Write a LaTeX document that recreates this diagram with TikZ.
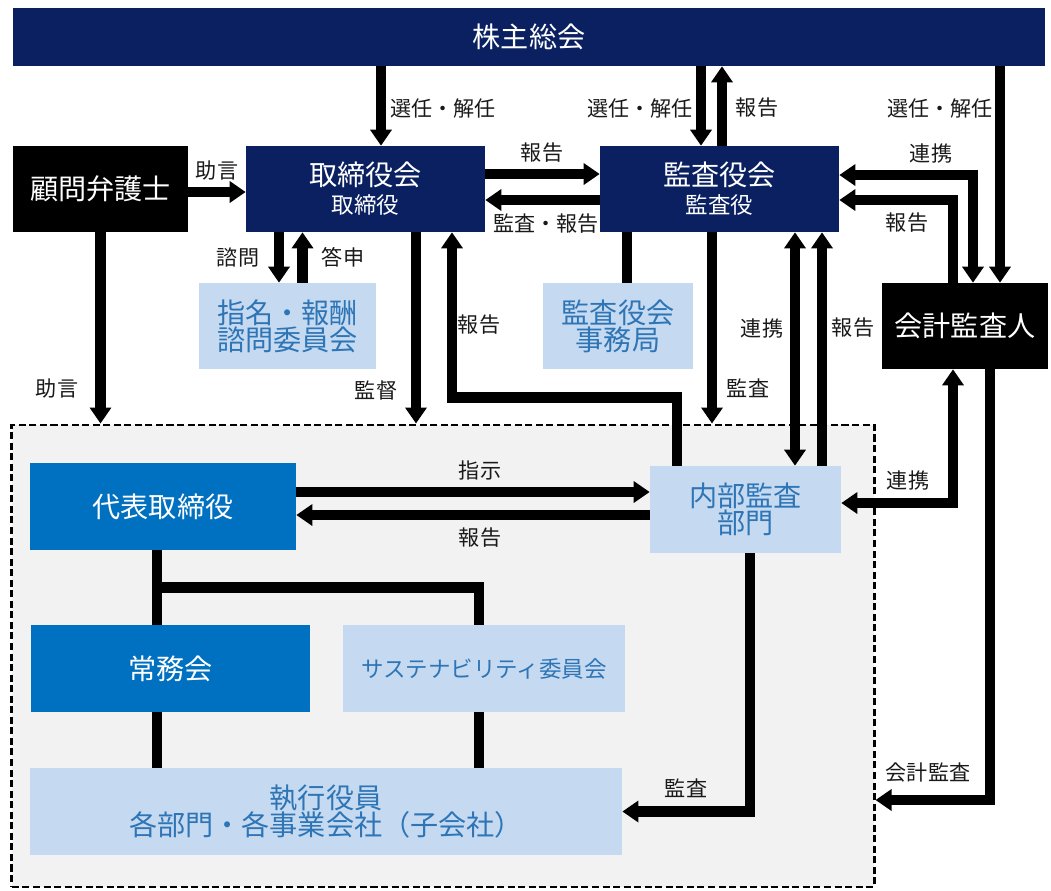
\documentclass[tikz,border=0pt]{standalone}
\usepackage{fontspec}
\setmainfont{Noto Sans CJK JP}
\usetikzlibrary{arrows.meta, calc, positioning}
\definecolor{navy}{RGB}{10,32,96}
\definecolor{midblue}{RGB}{0,112,192}
\definecolor{paleblue}{RGB}{197,217,241}
\definecolor{boxtext}{RGB}{46,117,182}
\definecolor{grpgray}{RGB}{242,242,242}

\begin{document}
\begin{tikzpicture}
  [x=0.025cm, y=-0.025cm,
   big/.style={font=\fontsize{20}{23}\selectfont},
   dark/.style={rectangle, fill=navy, text=white, inner sep=0pt, align=center, big},
   blackbox/.style={rectangle, fill=black, text=white, inner sep=0pt, align=center, big},
   exec/.style={rectangle, fill=midblue, text=white, inner sep=0pt, align=center, big},
   pale/.style={rectangle, fill=paleblue, text=boxtext, inner sep=0pt, align=center, big},
   lab/.style={font=\fontsize{15}{17}\selectfont, text=black!90},
   line/.style={line width=0.27cm},
   arr/.style={line, -{Triangle[length=0.4cm, width=0.52cm]}},
   arr2/.style={line, {Triangle[length=0.4cm, width=0.52cm]}-{Triangle[length=0.4cm, width=0.52cm]}}]
  \useasboundingbox (0,0) rectangle (1051,890);
  % group frame
  \node (grp) at (443,656) [rectangle, draw=black, fill=grpgray, line width=2pt,
    dash pattern=on 5pt off 2.5pt, minimum width=21.55cm, minimum height=11.55cm] {};
  % top row
  \node (sh) at (529,37) [dark, minimum width=25.8cm, minimum height=1.45cm] {株主総会};
  \node (law) at (100.5,189) [blackbox, minimum width=4.375cm, minimum height=2.15cm] {顧問弁護士};
  \node (bod) at (365.5,189) [dark, minimum width=5.975cm, minimum height=2.15cm]
    {取締役会\\[-3pt]{\fontsize{16}{18}\selectfont 取締役}};
  \node (kan) at (719.5,189) [dark, minimum width=5.975cm, minimum height=2.15cm]
    {監査役会\\[-3pt]{\fontsize{16}{18}\selectfont 監査役}};
  \node (nom) at (287.5,326) [pale, minimum width=4.425cm, minimum height=2.15cm] {指名・報酬\\[-4pt]諮問委員会};
  \node (sec) at (618,326) [pale, minimum width=3.75cm, minimum height=2.15cm] {監査役会\\[-4pt]事務局};
  \node (acc) at (965,326) [blackbox, minimum width=4.15cm, minimum height=2.15cm] {会計監査人};
  % inside the frame
  \node (ceo) at (163,506.5) [exec, minimum width=6.65cm, minimum height=2.175cm] {代表取締役};
  \node (ia) at (745.5,509.5) [pale, minimum width=4.775cm, minimum height=2.175cm] {内部監査\\[-4pt]部門};
  \node (jomu) at (170.5,668.5) [exec, minimum width=6.975cm, minimum height=2.175cm] {常務会};
  \node (sus) at (484,668.5) [pale, minimum width=7.05cm, minimum height=2.175cm,
    font=\fontsize{16}{18}\selectfont] {サステナビリティ委員会};
  \node (exe) at (326,811.5) [pale, minimum width=14.8cm, minimum height=2.175cm]
    {執行役員\\[-4pt]各部門・各事業会社（子会社）};

  % shareholders
  \draw [arr] ($(sh.south -| bod.north)+(15.5,0)$) -- ($(bod.north)+(15.5,0)$);
  \draw [arr] ($(sh.south -| kan.north)+(-18.5,0)$) -- ($(kan.north)+(-18.5,0)$);
  \draw [arr] ($(kan.north)+(2.5,0)$) -- ($(sh.south -| kan.north)+(2.5,0)$);
  \draw [arr] ($(sh.south -| acc.north)+(35,0)$) -- ($(acc.north)+(35,0)$);
  \node (l1) at (443,108) [lab] {選任・解任};
  \node (l2) at (640,108) [lab] {選任・解任};
  \node (l3) at (757,108) [lab] {報告};
  \node (l4) at (940,108) [lab] {選任・解任};
  % auditors
  \draw [arr2] ($(kan.east)+(0,-14)$) -| ($(acc.north)+(8,0)$);
  \draw [arr] ($(acc.north)+(-12,0)$) |- ($(kan.east)+(0,11)$);
  \node (l5) at (931,153) [lab] {連携};
  \node (l6) at (907,223) [lab] {報告};
  % board
  \draw [arr] ($(law.east)+(0,3)$) -- ($(bod.west)+(0,3)$);
  \draw [arr] (law.south) -- (law.south |- grp.north);
  \draw [arr] ($(bod.south -| nom.north)+(-8.5,0)$) -- ($(nom.north)+(-8.5,0)$);
  \draw [arr] ($(nom.north)+(15,0)$) -- ($(bod.south -| nom.north)+(15,0)$);
  \draw [arr] ($(bod.south)+(50.5,0)$) -- ($(bod.south |- grp.north)+(50.5,0)$);
  \draw [arr] ($(ia.north)+(-68.5,0)$) -- ++(0,-68) -| ($(bod.south)+(86.5,0)$);
  \draw [arr] ($(bod.east)+(0,-15)$) -- ($(kan.west)+(0,-15)$);
  \draw [arr] ($(kan.west)+(0,11)$) -- ($(bod.east)+(0,11)$);
  \node (l7) at (217,170) [lab] {助言};
  \node (l8) at (57,388) [lab] {助言};
  \node (l9) at (238,257) [lab] {諮問};
  \node (l10) at (343,257) [lab] {答申};
  \node (l11) at (376,390) [lab] {監督};
  \node (l12) at (479,325) [lab] {報告};
  \node (l13) at (542,153) [lab] {報告};
  \node (l14) at (546,224) [lab] {監査・報告};
  % audit board
  \draw [line] ($(kan.south -| sec.north)+(9,0)$) -- ($(sec.north)+(9,0)$);
  \draw [arr] ($(kan.south)+(-7.5,0)$) -- ($(kan.south |- grp.north)+(-7.5,0)$);
  \draw [arr2] ($(ia.north)+(49.5,0)$) -- ($(kan.south -| ia.north)+(49.5,0)$);
  \draw [arr] ($(ia.north)+(76.5,0)$) -- ($(kan.south -| ia.north)+(76.5,0)$);
  \node (l15) at (762,328) [lab] {連携};
  \node (l16) at (853,328) [lab] {報告};
  \node (l17) at (748,388) [lab] {監査};
  % executive side
  \draw [arr] ($(ceo.east)+(0,-14.5)$) -- ($(ceo.east -| ia.west)+(0,-14.5)$);
  \draw [arr] ($(ia.west |- ceo.east)+(0,8.5)$) -- ($(ceo.east)+(0,8.5)$);
  \draw [arr2] ($(ia.east)+(0,-6.5)$) -| ($(acc.south)+(-12,0)$);
  \draw [arr] ($(acc.south)+(25,0)$) |- ($(grp.east)+(0,144)$);
  \draw [arr] ($(ia.south)+(4.5,0)$) |- (exe.east);
  \node (l18) at (480,470) [lab] {指示};
  \node (l19) at (480,538) [lab] {報告};
  \node (l20) at (908,480) [lab] {連携};
  \node (l21) at (928,772) [lab] {会計監査};
  \node (l22) at (686,788) [lab] {監査};
  % tree
  \draw [line] ($(ceo.south)+(-6,0)$) -- ($(ceo.south |- jomu.north)+(-6,0)$);
  \draw [line] ($(ceo.south)+(-6,37)$) -| ($(sus.north)+(-5,0)$);
  \draw [line] ($(jomu.south)+(-13.5,0)$) -- ($(jomu.south |- exe.north)+(-13.5,0)$);
  \draw [line] ($(sus.south)+(-5,0)$) -- ($(sus.south |- exe.north)+(-5,0)$);
\end{tikzpicture}
\end{document}
